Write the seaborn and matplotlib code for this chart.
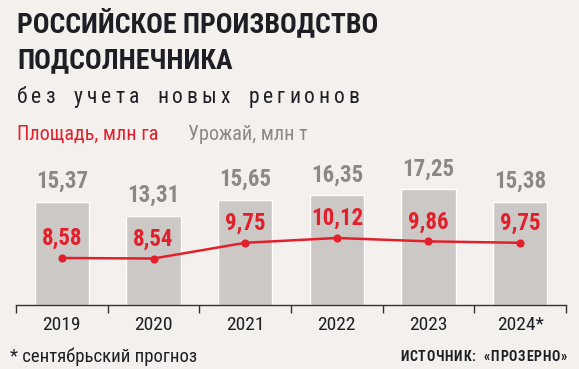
import matplotlib
matplotlib.use("Agg")
import matplotlib.pyplot as plt
from matplotlib import font_manager
import seaborn as sns
import pandas as pd

# data
years = ["2019", "2020", "2021", "2022", "2023", "2024*"]
harvest = [15.37, 13.31, 15.65, 16.35, 17.25, 15.38]   # урожай, млн т
area = [8.58, 8.54, 9.75, 10.12, 9.86, 9.75]          # площадь, млн га

title_lines = ["РОССИЙСКОЕ ПРОИЗВОДСТВО", "ПОДСОЛНЕЧНИКА"]
subtitle = "без учета новых регионов"
legend_area = "Площадь, млн га"
legend_harvest = "Урожай, млн т"
footnote = "* сентябрьский прогноз"
source = "ИСТОЧНИК: «ПРОЗЕРНО»"

BG = "#f3f0ed"
RED = "#e2202c"
BAR = "#ccc8c5"
GREY_TXT = "#8b8886"
DARK = "#1e1e24"

W, H = 579, 369

sns.set_theme(style="white")
names = {f.name for f in font_manager.fontManager.ttflist}
FONT = "DejaVu Sans"
for cand in ["Liberation Sans Narrow", "Roboto Condensed", "Open Sans Condensed",
             "DejaVu Sans Condensed", "Noto Sans"]:
    if cand in names:
        FONT = cand
        break
plt.rcParams["font.family"] = [FONT, "DejaVu Sans"]


def px(x, y):
    return x / W, 1 - y / H


def tracked(fig, x, y, s, track, ha="left", **kw):
    """draw text with letter spacing (track in pixels), x/y in pixels"""
    r = fig.canvas.get_renderer()
    widths = []
    for ch in s:
        t = fig.text(0, 0, "n" if ch == " " else ch, **kw)
        widths.append(t.get_window_extent(r).width)
        t.remove()
    total = sum(widths) + track * (len(s) - 1)
    cx = x - total if ha == "right" else x
    for ch, w in zip(s, widths):
        if ch != " ":
            fig.text(*px(cx, y), ch, va="baseline", ha="left", **kw)
        cx += w + track


df = pd.DataFrame({"year": years, "harvest": harvest, "area": area})

fig = plt.figure(figsize=(W / 100, H / 100), dpi=100, facecolor=BG)
ax = fig.add_axes([16 / W, 64 / H, 550 / W, 155 / H])
ax.set_facecolor("none")

sns.barplot(data=df, x="year", y="harvest", color=BAR, width=0.59,
            saturation=1, ax=ax, zorder=1)
ax.set_ylim(0, 155 / 6.7)
ax.set_xlim(-0.5, len(years) - 0.5)

ax2 = ax.twinx()
sns.pointplot(data=df, x="year", y="area", color=RED, ax=ax2,
              markers="o", markersize=4.5, linewidth=1.8)
k = 20 / 1.54
lo = 8.58 - 47 / k
ax2.set_ylim(lo, lo + 155 / k)
ax2.set_xlim(-0.5, len(years) - 0.5)

for a in (ax, ax2):
    for s in ["top", "right", "left"]:
        a.spines[s].set_visible(False)
    a.set_yticks([])
    a.set_xlabel("")
    a.set_ylabel("")
ax2.spines["bottom"].set_visible(False)
ax2.tick_params(axis="x", length=0, labelbottom=False)

ax.spines["bottom"].set_color("#333333")
ax.spines["bottom"].set_linewidth(1.0)
ax.set_xticks(range(len(years)))
ax.set_xticklabels(years, fontsize=14, color=DARK)
ax.set_xticks([i - 0.5 for i in range(len(years) + 1)], minor=True)
ax.tick_params(axis="x", which="major", length=0, pad=8)
ax.tick_params(axis="x", which="minor", length=6, width=1.0, color="#333333",
               direction="out", bottom=True)

for i, v in enumerate(harvest):
    ax.annotate(f"{v:.2f}".replace(".", ","), (i, v), xytext=(0, 14),
                textcoords="offset pixels", ha="center", va="baseline",
                fontsize=16.5, color=GREY_TXT, fontweight="bold",
                annotation_clip=False)
for i, v in enumerate(area):
    ax2.annotate(f"{v:.2f}".replace(".", ","), (i, v), xytext=(0, 13),
                 textcoords="offset pixels", ha="center", va="baseline",
                 fontsize=16.5, color=RED, fontweight="bold",
                 annotation_clip=False)

# header
fig.text(*px(17, 32), title_lines[0], fontsize=20, fontweight="bold",
         color=DARK, va="baseline")
fig.text(*px(17, 68), title_lines[1], fontsize=20, fontweight="bold",
         color=DARK, va="baseline")
tracked(fig, 17, 103, subtitle, 4.0, fontsize=15.5, color=DARK)
fig.text(*px(17, 140), legend_area, fontsize=14.5, color=RED, va="baseline")
fig.text(*px(188, 140), legend_harvest, fontsize=14.5, color=GREY_TXT,
         va="baseline")

# footer
fig.text(*px(10, 362), footnote, fontsize=13.5, color=DARK, va="baseline")
tracked(fig, 567, 361, source, 0.8, ha="right", fontsize=10,
        fontweight="bold", color=DARK)

fig.savefig("out.png", dpi=100, facecolor=BG)
